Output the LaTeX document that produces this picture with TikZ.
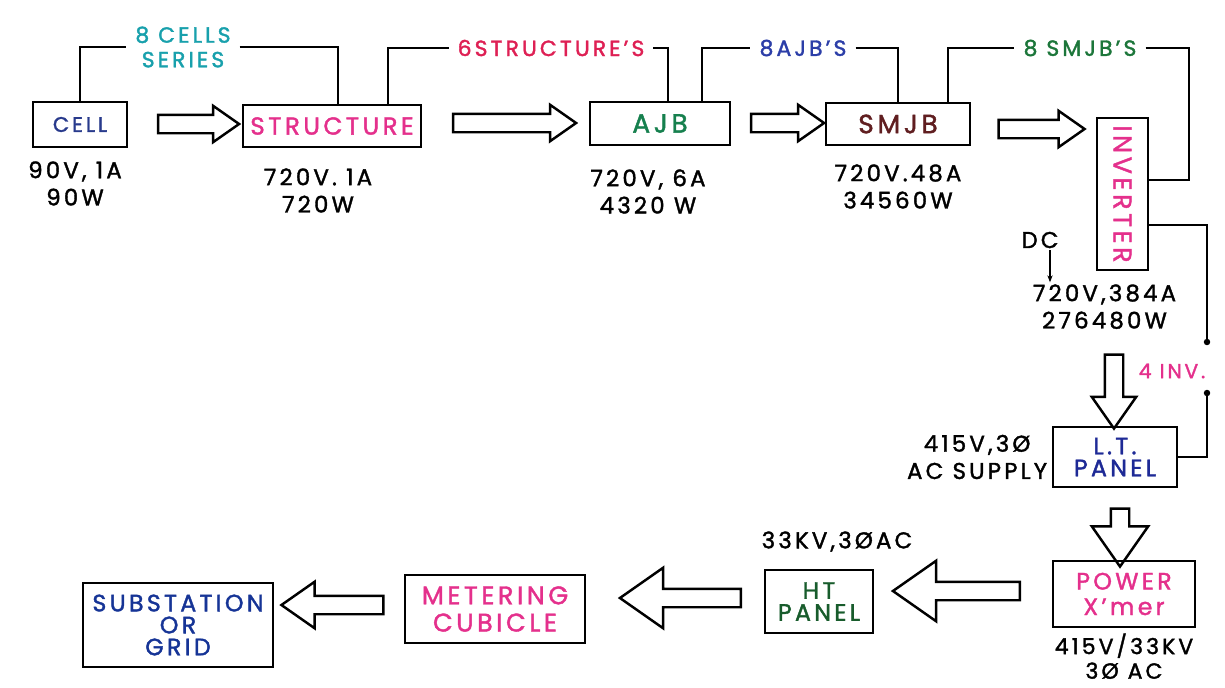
\documentclass[tikz,border=0pt]{standalone}
\usepackage{fontspec}
\setmainfont{Poppins}[LetterSpace=14,FakeBold=1.6]
\usetikzlibrary{arrows.meta,positioning,calc,shapes.arrows}
\definecolor{inkblue}{RGB}{40,58,140}
\definecolor{rosepink}{RGB}{228,48,140}
\definecolor{crimson}{RGB}{222,32,84}
\definecolor{tealc}{RGB}{24,160,172}
\definecolor{ajbgreen}{RGB}{22,128,78}
\definecolor{smjbred}{RGB}{96,30,32}
\definecolor{tagblue}{RGB}{44,62,168}
\definecolor{smjbgreen}{RGB}{28,118,58}
\definecolor{ltblue}{RGB}{30,42,150}
\definecolor{htgreen}{RGB}{24,92,44}
\definecolor{gridblue}{RGB}{22,52,150}

\begin{document}
\begin{tikzpicture}[
  x=0.02cm,
  y=-0.02cm,
  box/.style={
    draw=black,
    line width=1.5pt,
    align=center,
    inner sep=1pt,
    font=\fontsize{13.5}{12.5}\selectfont
  },
  val/.style={
    align=center,
    inner sep=1pt,
    font=\fontsize{13}{15.5}\selectfont
  },
  tag/.style={
    align=center,
    inner xsep=5pt,
    inner ysep=1pt,
    font=\fontsize{12.5}{14}\selectfont
  },
  wire/.style={line width=1.3pt},
  fat/.style={
    single arrow,
    draw=black,
    line width=1.4pt,
    inner sep=0.16cm,
    minimum width=0pt,
    minimum height=#1,
    single arrow tip angle=70,
    single arrow head indent=0pt,
    single arrow head extend=0.18cm
  },
  dot/.style={circle,fill=black,inner sep=1.3pt}
]
\useasboundingbox (0,0) rectangle (1225,687);

\node[box,text=inkblue,minimum width=1.88cm,minimum height=0.9cm,
  font=\fontsize{12}{13}\selectfont]
  (cell) at (80,124.5) {CELL};
\node[box,text=rosepink,minimum width=3.56cm,minimum height=0.84cm,
  font=\fontsize{14}{15}\selectfont]
  (struct) at (332,126) {STRUCTURE};
\node[box,text=ajbgreen,minimum width=2.8cm,minimum height=0.86cm,
  font=\fontsize{15}{16}\selectfont]
  (ajb) at (660,123.5) {AJB};
\node[box,text=smjbred,minimum width=2.88cm,minimum height=0.84cm,
  font=\fontsize{15}{16}\selectfont]
  (smjb) at (898,124) {SMJB};
\node[box,text=rosepink,minimum width=1.02cm,minimum height=3.04cm,
  font=\fontsize{14.5}{16}\selectfont]
  (inv) at (1122.5,194) {\rotatebox{-90}{INVERTER}};
\node[box,text=ltblue,minimum width=2.48cm,minimum height=1.2cm]
  (lt) at (1115,457) {L.T.\\PANEL};
\node[box,text=rosepink,minimum width=2.84cm,minimum height=1.32cm,
  font=\fontsize{13.5}{14.5}\selectfont]
  (xmer) at (1124,594) {POWER\\X’mer};
\node[box,text=htgreen,minimum width=2.16cm,minimum height=1.26cm]
  (ht) at (819,601.5) {HT\\PANEL};
\node[box,text=rosepink,minimum width=3.6cm,minimum height=1.36cm,
  font=\fontsize{14.5}{15.5}\selectfont]
  (meter) at (495,609) {METERING\\CUBICLE};
\node[box,text=gridblue,minimum width=3.8cm,minimum height=1.68cm]
  (grid) at (178,625) {SUBSTATION\\OR\\GRID};

\node[val,below=0.22cm of cell,xshift=-0.1cm] (cellv) {90V, 1A\\90W};
\node[val,below=0.36cm of struct,xshift=-0.28cm] (structv) {720V. 1A\\720W};
\node[val,below=0.42cm of ajb,xshift=-0.24cm] (ajbv) {720V, 6A\\4320 W};
\node[val,below=0.32cm of smjb] (smjbv) {720V.48A\\34560W};
\node[val,below=0.22cm of inv.south,xshift=-0.36cm] (invv) {720V,384A\\276480W};
\node[val] (dc) at (1040,240) {DC};
\node[val,left=0.05cm of lt] (ltv) {415V,3Ø\\AC SUPPLY};
\node[val,below=0.06cm of xmer,font=\fontsize{12.5}{14}\selectfont]
  (xmerv) {415V/33KV\\3Ø AC};
\node[val,above=0.3cm of ht,xshift=0.36cm] (htv) {33KV,3ØAC};

\node[tag,text=tealc] (cells) at (183,47) {8 CELLS\\SERIES};
\node[tag,text=crimson] (structs) at (551,48) {6STRUCTURE’S};
\node[tag,text=tagblue] (ajbs) at (803,48) {8AJB’S};
\node[tag,text=smjbgreen] (smjbs) at (1080,48) {8 SMJB’S};
\node[tag,text=rosepink,font=\fontsize{11.5}{13}\selectfont] (invs) at (1172,371) {4 INV.};

\coordinate (invin) at ($(inv.east)+(0,-14)$);
\coordinate (invout) at ($(inv.east)+(0,31)$);
\node[dot] (d1) at (1207,342) {};
\node[dot] (d2) at (1207,393) {};

\draw[wire] (cell.north) |- (cells.west);
\draw[wire] (cells.east) -| ($(struct.north)+(6,0)$);
\draw[wire] ($(struct.north)+(56,0)$) |- (structs.west);
\draw[wire] (structs.east) -| ($(ajb.north)+(8,0)$);
\draw[wire] ($(ajb.north)+(42,0)$) |- (ajbs.west);
\draw[wire] (ajbs.east) -| (smjb.north);
\draw[wire] ($(smjb.north)+(50,0)$) |- (smjbs.west);
\draw[wire] (smjbs.east) -| ($(invin)+(40,0)$) -- (invin);
\draw[wire] (invout) -| (d1.center);
\draw[wire] (d2.center) |- (lt.east);
\draw[-{Stealth[length=4pt]},line width=1pt]
  ([xshift=0.2cm]dc.south) -- ([xshift=0.2cm]dc.south |- invv.north);

\node[fat=1.62cm] (f1) at (192,124) {};
\node[fat=2.46cm] (f2) at (508,123) {};
\node[fat=1.46cm] (f3) at (781,123) {};
\node[fat=1.72cm] (f4) at (1035,129) {};
\node[fat=1.48cm,shape border rotate=270,single arrow head extend=0.26cm]
  (f5) at (1114,385) {};
\node[fat=1.16cm,shape border rotate=270,single arrow head extend=0.38cm]
  (f6) at (1120,531) {};
\node[fat=2.54cm,shape border rotate=180,single arrow head extend=0.42cm]
  (f7) at (963,591) {};
\node[fat=2.42cm,shape border rotate=180,single arrow head extend=0.42cm]
  (f8) at (687,598) {};
\node[fat=2.04cm,shape border rotate=180,single arrow head extend=0.28cm]
  (f9) at (339,605) {};
\end{tikzpicture}
\end{document}
